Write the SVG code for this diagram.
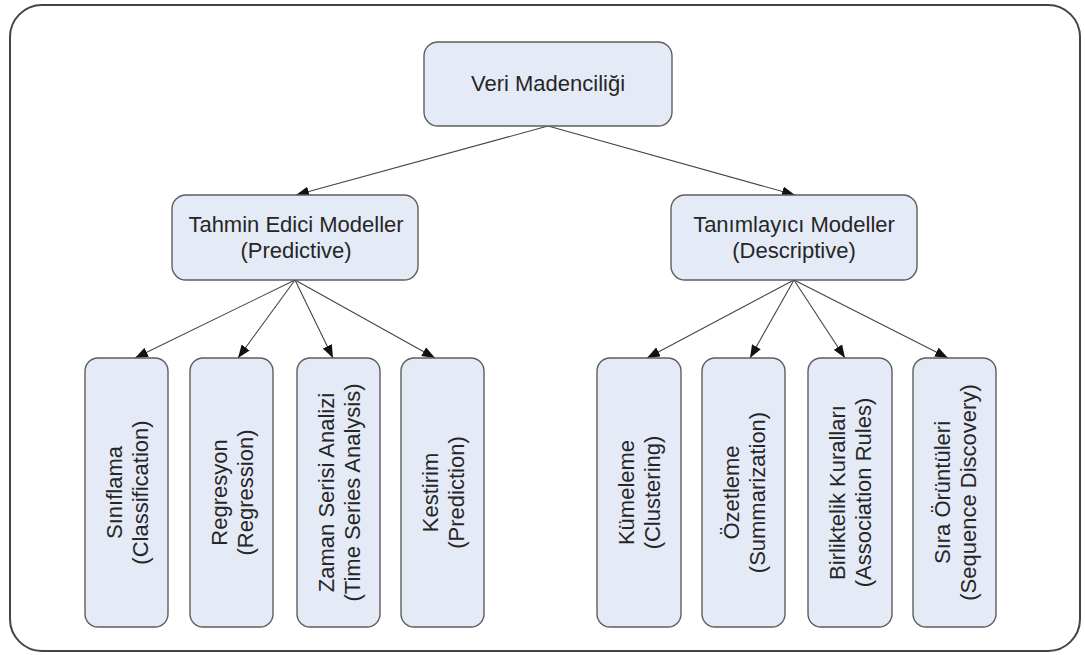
<svg xmlns="http://www.w3.org/2000/svg" width="1085" height="655" viewBox="0 0 1085 655">
  <defs>
    <marker id="arrow" viewBox="0 0 13 10" refX="13" refY="5" markerWidth="13" markerHeight="10" markerUnits="userSpaceOnUse" orient="auto">
      <path d="M0,0 L13,5 L0,10 Z" fill="#111"/>
    </marker>
    <style>
      .node rect { fill: #e5ebf6; stroke: #5e5e5e; stroke-width: 1.4; }
      .node text { font-family: "Liberation Sans", Arial, sans-serif; font-size: 22px; fill: #262626; text-anchor: middle; }
      .edges line { stroke: #444; stroke-width: 1.1; marker-end: url(#arrow); }
    </style>
  </defs>

  <rect width="1085" height="655" fill="#fff"/>
  <!-- outer frame -->
  <rect x="10" y="5" width="1070" height="646" rx="32" fill="none" stroke="#444" stroke-width="2"/>

  <!-- connectors -->
  <g class="edges">
    <line x1="548" y1="126" x2="296" y2="195"/>
    <line x1="548" y1="126" x2="795" y2="195"/>
    <line x1="295" y1="280" x2="135" y2="358"/>
    <line x1="295" y1="280" x2="238" y2="358"/>
    <line x1="295" y1="280" x2="333" y2="358"/>
    <line x1="295" y1="280" x2="435" y2="358"/>
    <line x1="794" y1="280" x2="647" y2="358"/>
    <line x1="794" y1="280" x2="750" y2="358"/>
    <line x1="794" y1="280" x2="845" y2="358"/>
    <line x1="794" y1="280" x2="948" y2="358"/>
  </g>

  <!-- root -->
  <g id="veri-madenciligi" class="node">
    <rect x="424" y="42" width="248" height="84" rx="14"/>
    <text x="548" y="91">Veri Madenciliği</text>
  </g>

  <!-- second level -->
  <g id="tahmin-edici" class="node">
    <rect x="172" y="195" width="246" height="85" rx="14"/>
    <text x="296" y="232">Tahmin Edici Modeller</text>
    <text x="296" y="258">(Predictive)</text>
  </g>
  <g id="tanimlayici" class="node">
    <rect x="671" y="195" width="246" height="85" rx="14"/>
    <text x="794" y="232">Tanımlayıcı Modeller</text>
    <text x="794" y="258">(Descriptive)</text>
  </g>

  <!-- leaves: vertical labels -->
  <g id="siniflama" class="node">
    <rect x="85" y="358" width="83" height="269" rx="13"/>
    <g transform="translate(126.5,492.5) rotate(-90)">
      <text y="-5">Sınıflama</text>
      <text y="21">(Classification)</text>
    </g>
  </g>
  <g id="regresyon" class="node">
    <rect x="190" y="358" width="83" height="269" rx="13"/>
    <g transform="translate(231.5,492.5) rotate(-90)">
      <text y="-5">Regresyon</text>
      <text y="21">(Regression)</text>
    </g>
  </g>
  <g id="zaman-serisi" class="node">
    <rect x="297" y="358" width="83" height="269" rx="13"/>
    <g transform="translate(338.5,492.5) rotate(-90)">
      <text y="-5">Zaman Serisi Analizi</text>
      <text y="21">(Time Series Analysis)</text>
    </g>
  </g>
  <g id="kestirim" class="node">
    <rect x="401" y="358" width="83" height="269" rx="13"/>
    <g transform="translate(442.5,492.5) rotate(-90)">
      <text y="-5">Kestirim</text>
      <text y="21">(Prediction)</text>
    </g>
  </g>
  <g id="kumeleme" class="node">
    <rect x="597" y="358" width="84" height="269" rx="13"/>
    <g transform="translate(639,492.5) rotate(-90)">
      <text y="-5">Kümeleme</text>
      <text y="21">(Clustering)</text>
    </g>
  </g>
  <g id="ozetleme" class="node">
    <rect x="702" y="358" width="83" height="269" rx="13"/>
    <g transform="translate(743.5,492.5) rotate(-90)">
      <text y="-5">Özetleme</text>
      <text y="21">(Summarization)</text>
    </g>
  </g>
  <g id="birliktelik" class="node">
    <rect x="808" y="358" width="84" height="269" rx="13"/>
    <g transform="translate(850,492.5) rotate(-90)">
      <text y="-5">Birliktelik Kuralları</text>
      <text y="21">(Association Rules)</text>
    </g>
  </g>
  <g id="sira-oruntuleri" class="node">
    <rect x="913" y="358" width="83" height="269" rx="13"/>
    <g transform="translate(954.5,492.5) rotate(-90)">
      <text y="-5">Sıra Örüntüleri</text>
      <text y="21">(Sequence Discovery)</text>
    </g>
  </g>
</svg>
